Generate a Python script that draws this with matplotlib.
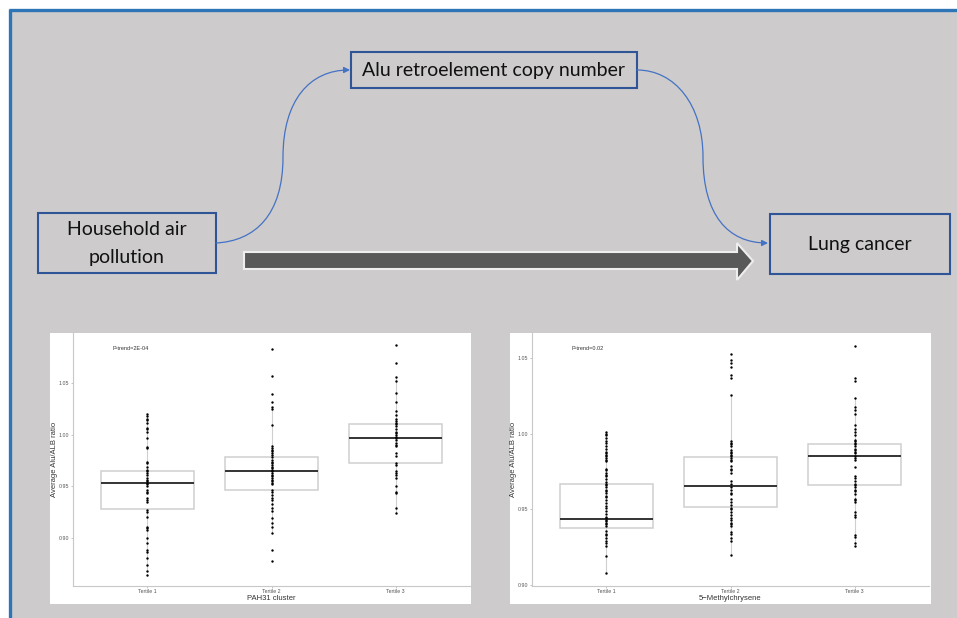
import matplotlib
matplotlib.use('Agg')
import matplotlib.pyplot as plt
from matplotlib.patches import Rectangle, Polygon, FancyArrowPatch
from matplotlib.path import Path

# ---- data ----
groups = ['Tertile 1', 'Tertile 2', 'Tertile 3']

# PAH31 cluster panel
pah_t1 = [1.020, 1.018, 1.015, 1.014, 1.011, 1.006, 1.005, 1.003, 0.997, 0.988, 0.987,
          0.974, 0.973, 0.969, 0.966, 0.965, 0.963, 0.961, 0.958, 0.956, 0.955, 0.953,
          0.952, 0.950, 0.947, 0.945, 0.944, 0.939, 0.937, 0.935, 0.927, 0.925, 0.921,
          0.911, 0.910, 0.908, 0.900, 0.895, 0.889, 0.887, 0.881, 0.874, 0.868, 0.865]
pah_t2 = [1.083, 1.057, 1.039, 1.031, 1.027, 1.025, 1.009, 0.989, 0.987, 0.985, 0.984,
          0.982, 0.980, 0.978, 0.976, 0.974, 0.973, 0.971, 0.969, 0.968, 0.966, 0.965,
          0.963, 0.961, 0.960, 0.958, 0.956, 0.955, 0.953, 0.952, 0.947, 0.945, 0.942,
          0.939, 0.937, 0.933, 0.929, 0.926, 0.920, 0.915, 0.911, 0.905, 0.889, 0.878]
pah_t3 = [1.086, 1.069, 1.056, 1.052, 1.040, 1.031, 1.023, 1.019, 1.015, 1.013, 1.011,
          1.010, 1.008, 1.005, 1.003, 1.002, 1.000, 0.998, 0.997, 0.995, 0.992, 0.990,
          0.989, 0.982, 0.979, 0.973, 0.971, 0.965, 0.963, 0.961, 0.958, 0.950, 0.945,
          0.944, 0.929, 0.924]
pah_q1 = [0.9287, 0.9465, 0.973]
pah_med = [0.9532, 0.9648, 0.9965]
pah_q3 = [0.9652, 0.9787, 1.010]
pah_wlo = [0.868, 0.905, 0.924]
pah_whi = [1.020, 1.027, 1.056]

# 5-Methylchrysene panel
mc_t1 = [1.001, 1.000, 0.999, 0.997, 0.995, 0.994, 0.992, 0.990, 0.988, 0.987, 0.986,
         0.985, 0.984, 0.983, 0.982, 0.977, 0.976, 0.974, 0.973, 0.972, 0.970, 0.968,
         0.967, 0.966, 0.965, 0.963, 0.962, 0.961, 0.959, 0.958, 0.956, 0.954, 0.952,
         0.951, 0.949, 0.947, 0.945, 0.944, 0.943, 0.942, 0.941, 0.940, 0.939, 0.936,
         0.934, 0.933, 0.931, 0.929, 0.928, 0.926, 0.919, 0.908]
mc_t2 = [1.053, 1.049, 1.047, 1.044, 1.039, 1.037, 1.026, 0.995, 0.994, 0.993, 0.992,
         0.989, 0.988, 0.987, 0.986, 0.985, 0.984, 0.983, 0.982, 0.979, 0.977, 0.976,
         0.974, 0.969, 0.967, 0.965, 0.963, 0.961, 0.960, 0.957, 0.955, 0.953, 0.951,
         0.950, 0.948, 0.946, 0.944, 0.943, 0.941, 0.940, 0.939, 0.935, 0.934, 0.931,
         0.929, 0.920]
mc_t3 = [1.058, 1.037, 1.035, 1.024, 1.018, 1.016, 1.013, 1.006, 1.003, 1.001, 0.999,
         0.996, 0.995, 0.994, 0.993, 0.992, 0.990, 0.989, 0.988, 0.987, 0.985, 0.984,
         0.983, 0.978, 0.972, 0.971, 0.969, 0.967, 0.966, 0.965, 0.963, 0.962, 0.960,
         0.957, 0.956, 0.955, 0.948, 0.946, 0.945, 0.933, 0.932, 0.928, 0.926]
mc_q1 = [0.9375, 0.9514, 0.9662]
mc_med = [0.9437, 0.9655, 0.9854]
mc_q3 = [0.9668, 0.9849, 0.9933]
mc_wlo = [0.908, 0.920, 0.926]
mc_whi = [1.001, 1.026, 1.024]

W, H = 957, 618
BG = '#CDCBCC'
BLUE_EDGE = '#2F5597'
ARROW_BLUE = '#4472C4'

fig = plt.figure(figsize=(W / 100, H / 100), dpi=100)
fig.patch.set_facecolor('white')

# overlay in pixel coordinates for the diagram
ov = fig.add_axes([0, 0, 1, 1])
ov.set_xlim(0, W)
ov.set_ylim(H, 0)
ov.axis('off')

ov.add_patch(Rectangle((11, 11), W - 11, H - 11, facecolor=BG, edgecolor='none'))
ov.plot([10, 10], [9, H], color='#2E75B6', lw=2.4, solid_capstyle='butt')
ov.plot([9, W], [10, 10], color='#2E75B6', lw=2.4, solid_capstyle='butt')

diag_font = ['Lato', 'DejaVu Sans']

boxes = [
    ((351, 52), 286, 36, 'Alu retroelement copy number'),
    ((38, 213), 178, 60, 'Household air\npollution'),
    ((770, 214), 180, 60, 'Lung cancer'),
]
for (x0, y0), bw, bh, label in boxes:
    ov.add_patch(Rectangle((x0, y0), bw, bh, facecolor='none',
                           edgecolor=BLUE_EDGE, lw=1.5))
    ov.text(x0 + bw / 2, y0 + bh / 2 + 0.5, label, ha='center', va='center',
            fontsize=14, family=diag_font, color='#111111', linespacing=1.75)

# curved arrows
curve1 = Path([(216, 243), (255, 241), (283, 215), (283, 157),
               (283, 100), (310, 70), (350, 70)],
              [Path.MOVETO, Path.CURVE4, Path.CURVE4, Path.CURVE4,
               Path.CURVE4, Path.CURVE4, Path.CURVE4])
curve2 = Path([(637, 70), (675, 70), (703, 105), (703, 157),
               (703, 215), (728, 243), (768, 243)],
              [Path.MOVETO, Path.CURVE4, Path.CURVE4, Path.CURVE4,
               Path.CURVE4, Path.CURVE4, Path.CURVE4])
for p in (curve1, curve2):
    ov.add_patch(FancyArrowPatch(path=p, arrowstyle='-|>', mutation_scale=9,
                                 color=ARROW_BLUE, lw=0.9))

# thick direct arrow
ov.add_patch(Polygon([(244, 252), (737, 252), (737, 243), (753, 261),
                      (737, 280), (737, 269), (244, 269)],
                     closed=True, facecolor='#595959', edgecolor='#EEEEEE', lw=1.5))

# ---- box plot panels ----
plot_font = ['Liberation Sans', 'DejaVu Sans']
panels = [
    dict(bg=(50, 333, 421, 271), ax=(73, 333, 470, 586), ylim=(0.854, 1.098),
         pts=[pah_t1, pah_t2, pah_t3], q1=pah_q1, med=pah_med, q3=pah_q3,
         wlo=pah_wlo, whi=pah_whi, xlabel='PAH31 cluster', ptxt='P-trend=2E-04',
         ptx=0.10),
    dict(bg=(510, 333, 421, 271), ax=(532, 333, 929, 586), ylim=(0.8993, 1.0667),
         pts=[mc_t1, mc_t2, mc_t3], q1=mc_q1, med=mc_med, q3=mc_q3,
         wlo=mc_wlo, whi=mc_whi, xlabel='5\u2212Methylchrysene', ptxt='P-trend=0.02',
         ptx=0.10),
]

for pn in panels:
    bx, by, bw, bh = pn['bg']
    ov.add_patch(Rectangle((bx, by), bw, bh, facecolor='white', edgecolor='none'))
    l, t, r, b = pn['ax']
    ax = fig.add_axes([l / W, 1 - b / H, (r - l) / W, (b - t) / H])
    ax.patch.set_alpha(0)
    stats = []
    for i in range(3):
        stats.append(dict(med=pn['med'][i], q1=pn['q1'][i], q3=pn['q3'][i],
                          whislo=pn['wlo'][i], whishi=pn['whi'][i], fliers=[]))
    ax.bxp(stats, positions=[1, 2, 3], widths=0.75, showcaps=False, patch_artist=True,
           boxprops=dict(facecolor='white', edgecolor='#CFCFCF', lw=1.1),
           whiskerprops=dict(color='#CFCFCF', lw=0.8),
           medianprops=dict(color='#333333', lw=1.4))
    for i, vals in enumerate(pn['pts']):
        ax.scatter([i + 1] * len(vals), vals, s=3, color='black', lw=0, zorder=5)
    ax.set_xlim(0.4, 3.6)
    ax.set_ylim(*pn['ylim'])
    ax.set_yticks([0.90, 0.95, 1.00, 1.05])
    ax.set_yticklabels(['0.90', '0.95', '1.00', '1.05'])
    ax.set_xticks([1, 2, 3])
    ax.set_xticklabels(groups)
    for s in ['top', 'right']:
        ax.spines[s].set_visible(False)
    for s in ['left', 'bottom']:
        ax.spines[s].set_color('#C8C8C8')
        ax.spines[s].set_linewidth(0.8)
    ax.tick_params(length=1.5, width=0.5, color='#AAAAAA', labelsize=3.8,
                   labelcolor='#555555', pad=1)
    for lab in ax.get_xticklabels() + ax.get_yticklabels():
        lab.set_family(plot_font)
    ax.set_xlabel(pn['xlabel'], fontsize=5.5, family=plot_font, color='#333333',
                  labelpad=0.5)
    ax.set_ylabel('Average Alu/ALB ratio', fontsize=5.5, family=plot_font,
                  color='#333333', labelpad=0.5)
    ax.text(pn['ptx'], 0.94, pn['ptxt'], transform=ax.transAxes, fontsize=4,
            family=plot_font, color='#333333', va='center')

fig.savefig('out.png', dpi=100, facecolor='white')
